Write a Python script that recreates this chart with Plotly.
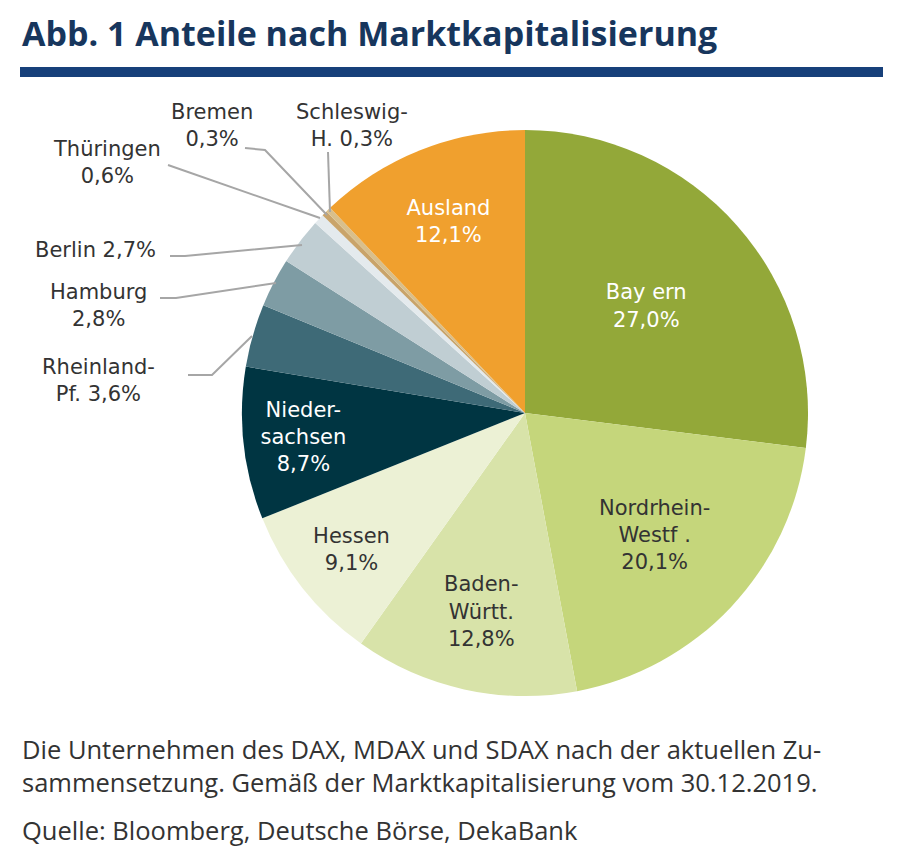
import plotly.graph_objects as go

W, H = 903, 854
OX, OY = 8, 8
labels = ["Bayern", "Nordrhein-Westf.", "Baden-Württ.", "Hessen", "Niedersachsen",
          "Rheinland-Pf.", "Hamburg", "Berlin", "Thüringen", "Bremen", "Schleswig-H.", "Ausland"]
values = [27.0, 20.1, 12.8, 9.1, 8.7, 3.6, 2.8, 2.7, 0.6, 0.3, 0.3, 12.1]
inside_text = ["Bay ern<br>27,0%", "Nordrhein-<br>Westf .<br>20,1%", "Baden-<br>Württ.<br>12,8%",
               "Hessen<br>9,1%", "Nieder-<br>sachsen<br>8,7%", "", "", "", "", "", "", "Ausland<br>12,1%"]
colors = ["#93a839", "#c5d67b", "#d8e3a9", "#ecf1d5", "#003542", "#3e6a77", "#7e9ca4",
          "#c0ced3", "#e4eaed", "#c9a46a", "#d8bf8c", "#f0a02e"]
text_colors = ["white", "#333333", "#333333", "#333333", "white", "white", "white",
               "white", "white", "white", "white", "white"]

outside = [
    ("Bremen<br>0,3%", 212, 125, [(245, 148), (265, 150), (327, 215)]),
    ("Schleswig-<br>H. 0,3%", 352, 125, [(328, 152), (330, 212)]),
    ("Thüringen<br>0,6%", 107, 163, [(168, 165), (320, 218)]),
    ("Berlin 2,7%", 95, 250, [(170, 256), (185, 256), (302, 245)]),
    ("Hamburg<br>2,8%", 98, 306, [(160, 298), (176, 298), (276, 283)]),
    ("Rheinland-<br>Pf. 3,6%", 98, 381, [(188, 375), (212, 375), (252, 336)]),
]

def px(x, y):
    return (x - OX) / W, 1 - (y - OY) / H

x0, y0 = px(242, 696)
x1, y1 = px(808, 130)
LF = "DejaVu Sans"
fig = go.Figure(go.Pie(
    labels=labels, values=values, text=inside_text, textinfo="text",
    textposition="inside", insidetextorientation="horizontal",
    sort=False, direction="clockwise", rotation=0,
    marker=dict(colors=colors, line=dict(color="white", width=0)),
    textfont=dict(size=21, color=text_colors, family=LF),
    domain=dict(x=[x0, x1], y=[y0, y1]),
    showlegend=False, hoverinfo="label+value",
))

anns = [
    dict(text="<b>Abb. 1 Anteile nach Marktkapitalisierung</b>", x=px(20, 0)[0], y=px(0, 33)[1],
         xanchor="left", yanchor="middle", showarrow=False,
         font=dict(size=34, color="#17365d", family="Open Sans")),
    dict(text="Die Unternehmen des DAX, MDAX und SDAX nach der aktuellen Zu-<br>sammensetzung. Gemäß der Marktkapitalisierung vom 30.12.2019.",
         x=px(20, 0)[0], y=px(0, 765)[1], xanchor="left", yanchor="middle", showarrow=False,
         align="left", font=dict(size=25.5, color="#333333", family="Open Sans")),
    dict(text="Quelle: Bloomberg, Deutsche Börse, DekaBank", x=px(20, 0)[0], y=px(0, 830)[1],
         xanchor="left", yanchor="middle", showarrow=False,
         font=dict(size=25.5, color="#333333", family="Open Sans")),
]
shapes = [dict(type="rect", xref="paper", yref="paper", x0=px(20, 0)[0], x1=px(883, 0)[0],
               y0=px(0, 77)[1], y1=px(0, 67)[1], fillcolor="#17407a", line=dict(width=0))]
for t, x, y, pts in outside:
    ax, ay = px(x, y)
    anns.append(dict(text=t, x=ax, y=ay, xanchor="center", yanchor="middle", showarrow=False,
                     font=dict(size=21, color="#333333", family=LF)))
    path = "M " + " L ".join(f"{px(a, b)[0]},{px(a, b)[1]}" for a, b in pts)
    shapes.append(dict(type="path", xref="paper", yref="paper", path=path,
                       line=dict(color="#a6a6a6", width=2)))

fig.update_layout(width=W, height=H, margin=dict(l=0, r=0, t=0, b=0),
                  paper_bgcolor="white", annotations=anns, shapes=shapes)
fig.write_html("out.html")
